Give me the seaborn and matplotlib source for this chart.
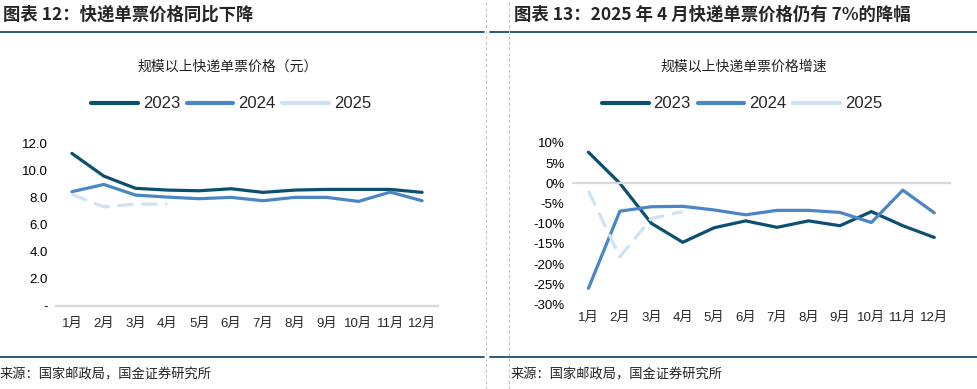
import pandas as pd
import matplotlib.pyplot as plt
import seaborn as sns
from matplotlib.lines import Line2D
from matplotlib.ticker import FixedLocator

# 月份与数据
months = ['1月', '2月', '3月', '4月', '5月', '6月', '7月', '8月', '9月', '10月', '11月', '12月']
years = ['2023', '2024', '2025']

price_2023 = [11.3, 9.62, 8.71, 8.58, 8.53, 8.68, 8.41, 8.58, 8.63, 8.63, 8.63, 8.41]
price_2024 = [8.46, 9.0, 8.21, 8.06, 7.94, 8.04, 7.79, 8.04, 8.04, 7.74, 8.43, 7.79]
price_2025 = [8.26, 7.34, 7.54, 7.54]

growth_2023 = [7.7, 0.0, -9.9, -14.6, -11.0, -9.3, -10.9, -9.3, -10.5, -7.0, -10.5, -13.4]
growth_2024 = [-26.0, -6.9, -5.8, -5.7, -6.6, -7.8, -6.7, -6.7, -7.2, -9.7, -1.7, -7.3]
growth_2025 = [-1.9, -18.2, -8.7, -7.0]

price_ticks = [0, 2, 4, 6, 8, 10, 12]
price_labels = ['-', '2.0', '4.0', '6.0', '8.0', '10.0', '12.0']
growth_ticks = [-30, -25, -20, -15, -10, -5, 0, 5, 10]
growth_labels = [f'{t}%' for t in growth_ticks]

colors = {'2023': '#0B4F71', '2024': '#4A86C5', '2025': '#CFE2F3'}
dashes = {'2023': '', '2024': '', '2025': (5, 2.5)}


def long_df(series):
    rows = []
    for y, vals in zip(years, series):
        for m, v in zip(months, vals):
            rows.append({'月份': m, '值': v, '年份': y})
    return pd.DataFrame(rows)


df_price = long_df([price_2023, price_2024, price_2025])
df_growth = long_df([growth_2023, growth_2024, growth_2025])

sns.set_style('white')
plt.rcParams['font.family'] = ['Liberation Sans', 'Noto Sans CJK SC', 'DejaVu Sans']

fig = plt.figure(figsize=(9.77, 3.89), dpi=100)
W, H = 977, 389


def fx(px):
    return px / W


def fy(py):
    return 1 - py / H


cjk = ['Noto Sans CJK SC', 'DejaVu Sans']
grey = '#D9D9D9'


def style_axis(ax, ticks, labels, ylim, zero_axis):
    ax.set_ylim(*ylim)
    ax.set_xlim(-0.5, len(months) - 0.5)
    ax.set_yticks(ticks)
    ax.set_yticklabels(labels, fontsize=9.5, color='#000000')
    ax.tick_params(axis='y', length=0, pad=6)
    for s in ['top', 'right', 'left']:
        ax.spines[s].set_visible(False)
    ax.spines['bottom'].set_color(grey)
    ax.spines['bottom'].set_linewidth(1.6)
    if zero_axis:
        ax.spines['bottom'].set_position(('data', 0))
    # 刻度线放在月份之间
    ax.xaxis.set_major_locator(FixedLocator([]))
    ax.xaxis.set_minor_locator(FixedLocator([i - 0.5 for i in range(len(months) + 1)]))
    ax.tick_params(axis='x', which='minor', length=4, width=1.6, color=grey, direction='out')
    ax.tick_params(axis='x', which='major', labelbottom=False, length=0)
    ax.set_xlabel('')
    ax.set_ylabel('')
    sec = ax.secondary_xaxis('bottom')
    sec.set_xticks(range(len(months)))
    sec.set_xticklabels(months, fontsize=9.5)
    sec.tick_params(length=0, pad=9 if not zero_axis else 5)
    sec.spines['bottom'].set_visible(False)


def draw(ax, df, ticks, labels, ylim, zero_axis, legend_x):
    sns.lineplot(data=df, x='月份', y='值', hue='年份', style='年份',
                 palette=colors, dashes=dashes, linewidth=2.3, ax=ax,
                 sort=False, legend='full')
    style_axis(ax, ticks, labels, ylim, zero_axis)
    handles, labs = ax.get_legend_handles_labels()
    ax.get_legend().remove()
    leg = fig.legend(handles, labs, loc='center', bbox_to_anchor=(fx(legend_x), fy(104)),
                     ncol=3, frameon=False, fontsize=12, handlelength=2.8,
                     columnspacing=0.4, handletextpad=0.3)
    for ln in leg.get_lines():
        ln.set_linestyle('-')
        ln.set_linewidth(3)


ax1 = fig.add_axes([fx(56), fy(305.7), fx(438 - 56), (305.7 - 144) / H])
draw(ax1, df_price, price_ticks, price_labels, (0, 12), False, 231)

ax2 = fig.add_axes([fx(572.7), fy(304.5), fx(950 - 572.7), (304.5 - 142.9) / H])
draw(ax2, df_growth, growth_ticks, growth_labels, (-30, 10), True, 742)

# 标题
fig.text(fx(3), fy(15), '图表 12：快递单票价格同比下降', fontsize=12.5, fontweight='bold',
         fontstyle='italic', family=cjk, va='center', ha='left')
fig.text(fx(514), fy(15), '图表 13：2025 年 4 月快递单票价格仍有 7%的降幅', fontsize=12.5,
         fontweight='bold', fontstyle='italic', family=cjk, va='center', ha='left')

# 子标题
fig.text(fx(228), fy(67), '规模以上快递单票价格（元）', fontsize=10, family=cjk,
         ha='center', va='center', color='#222222')
fig.text(fx(744), fy(67), '规模以上快递单票价格增速', fontsize=10, family=cjk,
         ha='center', va='center', color='#222222')

# 来源
fig.text(fx(0), fy(375), '来源：国家邮政局，国金证券研究所', fontsize=9.5, family=cjk,
         ha='left', va='center', color='#222222')
fig.text(fx(511), fy(375), '来源：国家邮政局，国金证券研究所', fontsize=9.5, family=cjk,
         ha='left', va='center', color='#222222')

# 分隔线
navy = '#1B4F72'
for yy in [32, 357]:
    fig.add_artist(Line2D([0, fx(484)], [fy(yy), fy(yy)], color=navy, lw=1.3))
    fig.add_artist(Line2D([fx(490), 1], [fy(yy), fy(yy)], color=navy, lw=1.3))
for xx in [486, 509]:
    fig.add_artist(Line2D([fx(xx), fx(xx)], [0, 1], color='#C8C8C8', lw=0.8,
                          linestyle=(0, (3, 2))))

fig.savefig('out.png', dpi=100)
